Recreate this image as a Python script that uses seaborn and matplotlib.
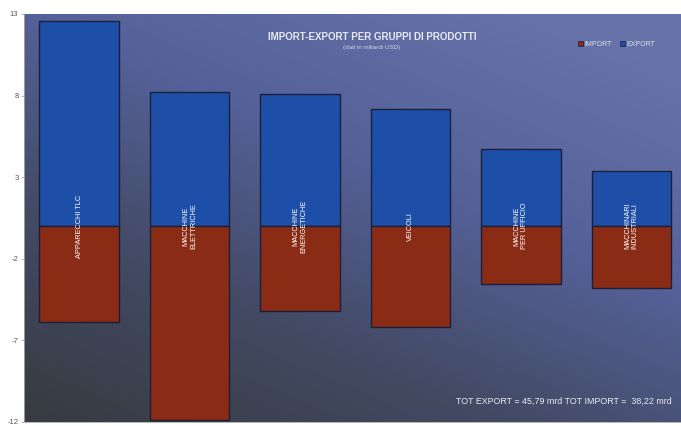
import numpy as np
import pandas as pd
import seaborn as sns
from matplotlib import pyplot as plt
from matplotlib.colors import LinearSegmentedColormap
from matplotlib.patches import Patch

sns.set_style("white")
plt.rcParams['font.family'] = ['Liberation Sans', 'DejaVu Sans']

# Dati (miliardi USD)
prodotti = ["APPARECCHI TLC", "MACCHINE\nELETTRICHE", "MACCHINE\nENERGETICHE",
            "VEICOLI", "MACCHINE\nPER UFFICIO", "MACCHINARI\nINDUSTRIALI"]
export = [12.55, 8.2, 8.1, 7.15, 4.7, 3.35]
importazioni = [-5.9, -11.9, -5.2, -6.15, -3.55, -3.8]
yticks = [13, 8, 3, -2, -7, -12]

df = pd.DataFrame({
    "prodotto": prodotti * 2,
    "valore": export + importazioni,
    "tipo": ["EXPORT"] * len(prodotti) + ["IMPORT"] * len(prodotti),
})

colori = {"EXPORT": "#1d4fa8", "IMPORT": "#8a2b15"}

fig = plt.figure(figsize=(6.81, 4.26), dpi=100)
ax = fig.add_axes([24 / 681, 4 / 426, 657 / 681, 408 / 426])

# sfondo sfumato
xx, yy = np.meshgrid(np.linspace(0, 1, 200), np.linspace(0, 1, 200))
grad = np.clip(0.65 * yy + 0.45 * xx, 0, 1)
cmap = LinearSegmentedColormap.from_list("bg", ["#373b41", "#434a64", "#55629a", "#6672a8"])
ax.imshow(grad, extent=[0, 1, 0, 1], transform=ax.transAxes, origin="lower",
          cmap=cmap, aspect="auto", zorder=0)

sns.barplot(data=df, x="prodotto", y="valore", hue="tipo", dodge=False,
            palette=colori, saturation=1, width=0.72, edgecolor="#1b1f3a", linewidth=1,
            legend=False, ax=ax, zorder=2)

ax.set_xlim(-0.5, 5.45)
ax.set_ylim(-12, 13)
ax.set_yticks(yticks)
ax.set_yticklabels([str(t) for t in yticks], fontsize=5.5, color="#555555")
ax.tick_params(axis="y", length=2, width=0.5, color="#999999", pad=2, left=True)
ax.set_xticks([])
ax.set_xlabel("")
ax.set_ylabel("")
for s in ["right", "top"]:
    ax.spines[s].set_visible(False)
ax.spines["left"].set_color("#aaaaaa")
ax.spines["bottom"].set_color("#aaaaaa")
ax.spines["left"].set_linewidth(0.6)
ax.spines["bottom"].set_linewidth(0.6)

for i, nome in enumerate(prodotti):
    ax.text(i, 0, nome, rotation=90, ha="center", va="center", fontsize=5.3,
            color="white", linespacing=1.1, zorder=3)

fig.text(372 / 681, 1 - 37 / 426, "IMPORT-EXPORT PER GRUPPI DI PRODOTTI",
         ha="center", va="center", fontsize=7, fontweight="bold", color="#e8eaf2")
fig.text(372 / 681, 1 - 48 / 426, "(dati in miliardi USD)",
         ha="center", va="center", fontsize=4.5, color="#d0d4e4")

handles = [Patch(facecolor=colori["IMPORT"], edgecolor="#1b1f3a", linewidth=0.5),
           Patch(facecolor=colori["EXPORT"], edgecolor="#1b1f3a", linewidth=0.5)]
leg = ax.legend(handles, ["IMPORT", "EXPORT"], ncol=2, frameon=False, fontsize=5,
                loc="center", bbox_to_anchor=((617 - 24) / 657, (422 - 44) / 408),
                handlelength=0.7, handleheight=0.7, handletextpad=0.2, columnspacing=1.2)
for t in leg.get_texts():
    t.set_color("#dde0ee")

fig.text(672 / 681, 1 - 401 / 426, "TOT EXPORT = 45,79 mrd TOT IMPORT =  38,22 mrd",
         ha="right", va="center", fontsize=6.4, color="#e8eaf2")

plt.savefig("out.png", dpi=100)
